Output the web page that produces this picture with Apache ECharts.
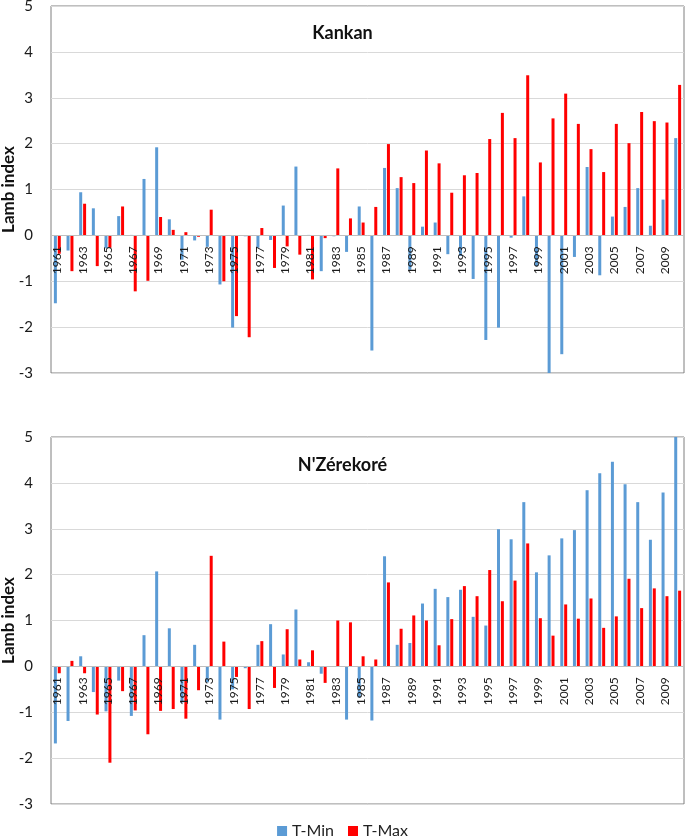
<!DOCTYPE html>
<html>
<head>
<meta charset="utf-8">
<script src="https://cdn.jsdelivr.net/npm/echarts@6/dist/echarts.min.js"></script>
<style>
html,body{margin:0;padding:0;background:#fff;}
#c{width:685px;height:839px;}
</style>
</head>
<body>
<div id="c"></div>
<script>
var years = [];
for (var y = 1961; y <= 2010; y++) years.push(String(y));

var kankanTmin = [-1.48,-0.33,0.94,0.59,-0.28,0.42,0.01,1.23,1.92,0.35,-0.53,-0.11,-0.25,-1.07,-2.01,-0.02,-0.27,-0.10,0.65,1.50,0.01,-0.78,-0.02,-0.36,0.63,-2.51,1.47,1.03,-0.75,0.19,0.28,-0.41,-0.45,-0.95,-2.28,-2.01,-0.05,0.85,-0.67,-3.0,-2.59,-0.47,1.49,-0.87,0.41,0.62,1.03,0.21,0.78,2.12];
var kankanTmax = [-0.40,-0.78,0.69,-0.67,-0.27,0.63,-1.22,-0.99,0.40,0.12,0.07,-0.03,0.56,-1.00,-1.76,-2.22,0.16,-0.71,-0.24,-0.42,-0.96,-0.06,1.46,0.37,0.28,0.62,1.99,1.27,1.14,1.85,1.57,0.93,1.31,1.36,2.10,2.67,2.12,3.49,1.59,2.55,3.09,2.43,1.88,1.38,2.43,2.01,2.69,2.49,2.46,3.28];
var nzTmin = [-1.68,-1.19,0.22,-0.56,-0.98,-0.31,-1.08,0.68,2.07,0.83,-0.79,0.47,-0.35,-1.16,-0.50,-0.04,0.47,0.92,0.26,1.24,0.09,-0.16,0.0,-1.16,-0.68,-1.18,2.40,0.47,0.51,1.37,1.69,1.51,1.67,1.08,0.89,2.99,2.77,3.58,2.05,2.42,2.79,2.97,3.84,4.21,4.46,3.97,3.58,2.76,3.79,5.0];
var nzTmax = [-0.15,0.12,-0.15,-1.05,-2.10,-0.54,-0.96,-1.48,-0.97,-0.93,-1.14,-0.52,2.41,0.54,-0.23,-0.93,0.55,-0.47,0.81,0.15,0.35,-0.36,1.00,0.96,0.22,0.15,1.83,0.82,1.11,1.00,0.46,1.03,1.75,1.53,2.10,1.42,1.87,2.68,1.05,0.67,1.35,1.04,1.48,0.84,1.09,1.91,1.27,1.70,1.53,1.65];

var titles = ['Kankan', "N'Zérekoré"];
var yTicks = {min: -3, max: 5, interval: 1};

var FONT = 'Lato, "Open Sans", sans-serif';
var BLUE = '#5B9BD5', RED = '#FF0000';
var GRID_H = 367;
// place the category axis on the zero line of the value axis
var zeroOffset = -GRID_H * (0 - yTicks.min) / (yTicks.max - yTicks.min);

function xAxis(idx){
  return {
    type: 'category', gridIndex: idx, data: years, position: 'bottom', offset: zeroOffset, z: 5,
    axisLine: {onZero: false, lineStyle: {color: '#BFBFBF', width: 1}},
    axisTick: {show: false},
    axisLabel: {rotate: 90, interval: 1, fontSize: 12, color: '#1a1a1a', fontFamily: FONT, margin: 11}
  };
}
function yAxis(idx){
  return {
    type: 'value', gridIndex: idx, min: yTicks.min, max: yTicks.max, interval: yTicks.interval,
    name: 'Lamb index', nameLocation: 'middle', nameGap: 34, nameMoveOverlap: false,
    nameTextStyle: {fontSize: 17, fontWeight: 'bold', color: '#111', fontFamily: FONT},
    axisLine: {show: false}, axisTick: {show: false},
    axisLabel: {fontSize: 15, color: '#1a1a1a', fontFamily: FONT, margin: 18},
    splitLine: {lineStyle: {color: '#D9D9D9', width: 1}}
  };
}
function bar(name, data, idx, color){
  return {
    name: name, type: 'bar', xAxisIndex: idx, yAxisIndex: idx, data: data,
    barWidth: 3, barGap: '30%', itemStyle: {color: color}, silent: true
  };
}

var chart = echarts.init(document.getElementById('c'), null, {renderer: 'canvas'});
chart.setOption({
  animation: false,
  backgroundColor: '#fff',
  textStyle: {fontFamily: FONT},
  title: [
    {text: titles[0], left: 'center', top: 19, textStyle: {fontSize: 18, fontWeight: 'bold', color: '#111', fontFamily: FONT}},
    {text: titles[1], left: 'center', top: 451, textStyle: {fontSize: 18, fontWeight: 'bold', color: '#111', fontFamily: FONT}}
  ],
  legend: {
    data: ['T-Min', 'T-Max'], top: 823, left: 'center', padding: 0, itemWidth: 10, itemHeight: 10, itemGap: 14,
    icon: 'rect', textStyle: {fontSize: 16, color: '#222', fontFamily: FONT}
  },
  grid: [
    {left: 51, right: 1, top: 6, height: GRID_H, containLabel: false, outerBoundsMode: 'none', show: true, borderColor: '#7F7F7F', borderWidth: 1, backgroundColor: 'transparent'},
    {left: 51, right: 1, top: 437, height: GRID_H, containLabel: false, outerBoundsMode: 'none', show: true, borderColor: '#7F7F7F', borderWidth: 1, backgroundColor: 'transparent'}
  ],
  xAxis: [xAxis(0), xAxis(1)],
  yAxis: [yAxis(0), yAxis(1)],
  series: [
    bar('T-Min', kankanTmin, 0, BLUE),
    bar('T-Max', kankanTmax, 0, RED),
    bar('T-Min', nzTmin, 1, BLUE),
    bar('T-Max', nzTmax, 1, RED)
  ]
});
</script>
</body>
</html>
